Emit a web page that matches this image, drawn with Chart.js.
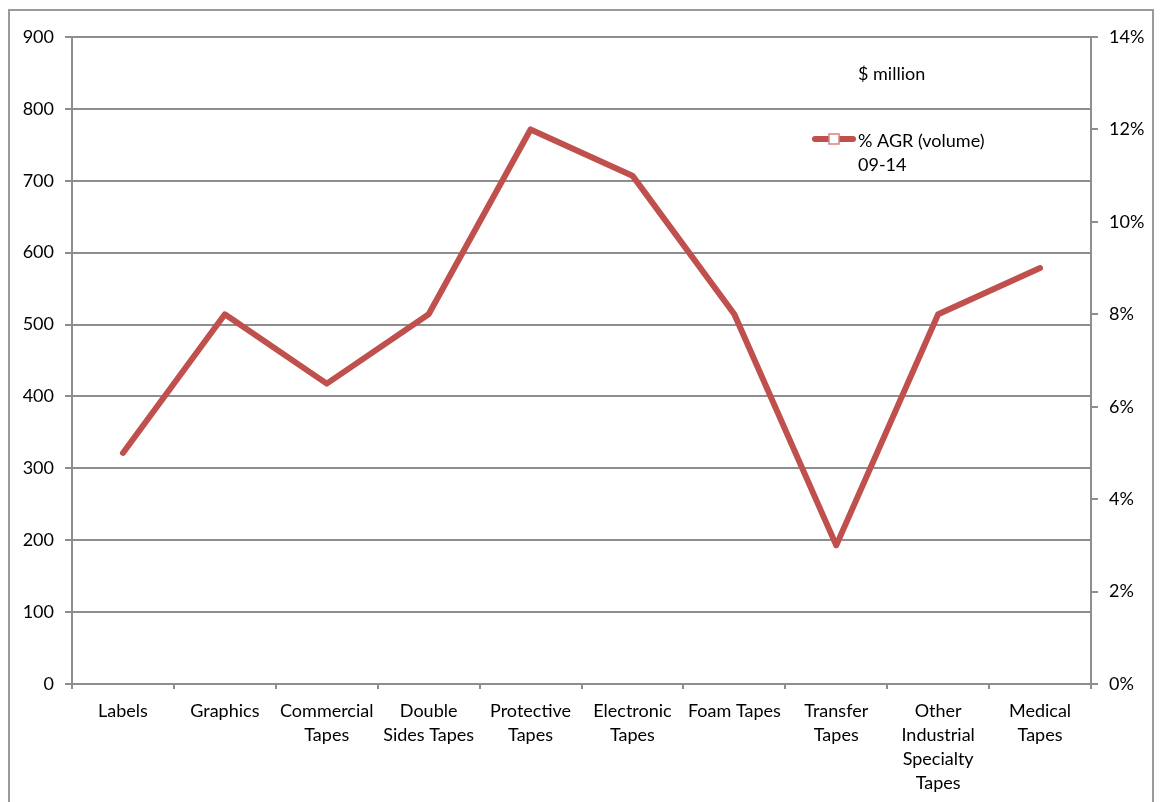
<!DOCTYPE html>
<html>
<head>
<meta charset="utf-8">
<script src="https://cdn.jsdelivr.net/npm/chart.js@4.4.1/dist/chart.umd.min.js"></script>
<style>
  html, body { margin: 0; padding: 0; background: #fff; }
  #wrap { width: 1160px; height: 802px; position: relative; }
</style>
</head>
<body>
<div id="wrap"><canvas id="chart" width="1160" height="802"></canvas></div>
<script>
// categories and values
const CATEGORIES = [
    'Labels', 'Graphics', ['Commercial', 'Tapes'], ['Double', 'Sides Tapes'],
    ['Protective', 'Tapes'], ['Electronic', 'Tapes'], 'Foam Tapes',
    ['Transfer', 'Tapes'], ['Other', 'Industrial', 'Specialty', 'Tapes'], ['Medical', 'Tapes']
];
const AGR_VOLUME = [5, 8, 6.5, 8, 12, 11, 8, 3, 8, 9];   // % AGR (volume) 09-14
const MILLION = [];                                       // $ million (no bars shown)

const LEFT_TICKS  = { min: 0, max: 900, step: 100 };
const RIGHT_TICKS = { min: 0, max: 14, step: 2 };

const RED  = '#c0504d';
const GRID = '#8e8e8e';
const FONT = { family: 'Lato, "Noto Sans", sans-serif', size: 18, lineHeight: 1.33 };

// frame around the whole chart + hand made legend
const framePlugin = {
    id: 'frame',
    beforeDraw(chart) {
        const c = chart.ctx;
        c.save();
        c.strokeStyle = '#9a9a9a';
        c.lineWidth = 2;
        c.strokeRect(9, 10, 1144, 820);
        c.restore();
    },
    afterDraw(chart) {
        const c = chart.ctx;
        c.save();
        c.font = `${FONT.size}px ${FONT.family}`;
        c.fillStyle = '#000';
        c.textBaseline = 'middle';
        c.fillText('$ million', 858, 74);

        c.strokeStyle = RED;
        c.lineWidth = 6;
        c.lineCap = 'round';
        c.beginPath();
        c.moveTo(815, 139);
        c.lineTo(853, 139);
        c.stroke();
        c.fillStyle = '#fff';
        c.fillRect(829, 134, 10, 10);
        c.strokeStyle = '#d9827f';
        c.lineWidth = 1.5;
        c.strokeRect(829, 134, 10, 10);

        c.fillStyle = '#000';
        c.fillText('% AGR (volume)', 858, 141);
        c.fillText('09-14', 858, 165);
        c.restore();
    }
};

new Chart(document.getElementById('chart'), {
    type: 'line',
    data: {
        labels: CATEGORIES,
        datasets: [
            {
                type: 'bar',
                label: '$ million',
                data: MILLION,
                yAxisID: 'y',
            },
            {
                label: '% AGR (volume) 09-14',
                data: AGR_VOLUME,
                yAxisID: 'y1',
                borderColor: RED,
                borderWidth: 6,
                pointRadius: 0,
                tension: 0,
                borderCapStyle: 'round',
                borderJoinStyle: 'round',
            }
        ]
    },
    plugins: [framePlugin],
    options: {
        responsive: false,
        animation: false,
        layout: { padding: { top: 37, left: 0, right: 0, bottom: 0 } },
        plugins: { legend: { display: false }, tooltip: { enabled: false } },
        scales: {
            x: {
                offset: true,
                grid: { drawOnChartArea: false, color: GRID, lineWidth: 2, tickLength: 5, offset: true },
                border: { color: GRID, width: 2 },
                ticks: { color: '#000', font: FONT, padding: 10, maxRotation: 0, autoSkip: false },
                afterFit(s) { s.height = 118; }
            },
            y: {
                position: 'left',
                min: LEFT_TICKS.min, max: LEFT_TICKS.max,
                ticks: { stepSize: LEFT_TICKS.step, color: '#000', font: FONT, padding: 11 },
                grid: { color: GRID, lineWidth: 2, tickLength: 7 },
                border: { color: GRID, width: 2 },
                afterFit(s) { s.width = 72; }
            },
            y1: {
                position: 'right',
                min: RIGHT_TICKS.min, max: RIGHT_TICKS.max,
                ticks: { stepSize: RIGHT_TICKS.step, color: '#000', font: FONT, padding: 11,
                         callback: v => v + '%' },
                grid: { drawOnChartArea: false, color: GRID, lineWidth: 2, tickLength: 7 },
                border: { color: GRID, width: 2 },
                afterFit(s) { s.width = 69; }
            }
        }
    }
});
</script>
</body>
</html>
